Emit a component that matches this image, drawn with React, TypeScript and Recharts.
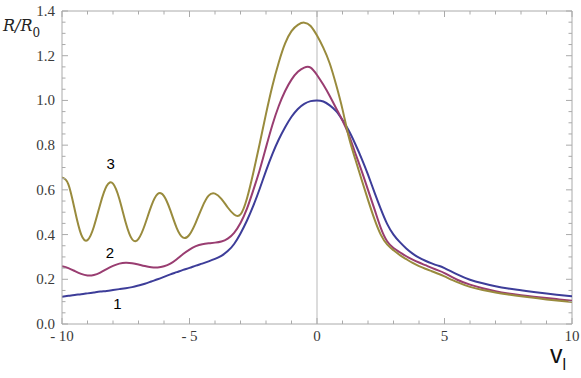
import React from 'react';
import { LineChart, Line, XAxis, YAxis, ReferenceLine, ReferenceDot } from 'recharts';

// velocity grid (x values)
const V = [
  -10, -9.75, -9.5, -9.25, -9, -8.75, -8.5, -8.25, -8, -7.75, -7.5, -7.25, -7, -6.75, -6.5, -6.25,
  -6, -5.75, -5.5, -5.25, -5, -4.75, -4.5, -4.25, -4, -3.75, -3.5, -3.25, -3, -2.75, -2.5, -2.25,
  -2, -1.75, -1.5, -1.25, -1, -0.75, -0.5, -0.25, 0, 0.25, 0.5, 0.75, 1, 1.25, 1.5, 1.75,
  2, 2.25, 2.5, 2.75, 3, 3.25, 3.5, 3.75, 4, 4.25, 4.5, 4.75, 5,
  5.5, 6, 6.5, 7, 7.5, 8, 8.5, 9, 9.5, 10,
];

// curve 1 (blue)
const R1 = [
  0.122, 0.126, 0.130, 0.133, 0.137, 0.141, 0.145, 0.148, 0.152, 0.156, 0.160, 0.165, 0.172, 0.180, 0.190, 0.200,
  0.211, 0.222, 0.232, 0.242, 0.251, 0.261, 0.270, 0.280, 0.291, 0.305, 0.326, 0.358, 0.405, 0.462, 0.528, 0.604,
  0.685, 0.760, 0.825, 0.880, 0.927, 0.962, 0.985, 0.997, 1.000, 0.995, 0.978, 0.952, 0.912, 0.864, 0.805, 0.740,
  0.668, 0.590, 0.515, 0.448, 0.400, 0.366, 0.338, 0.315, 0.297, 0.283, 0.271, 0.261, 0.250,
  0.222, 0.198, 0.182, 0.169, 0.159, 0.151, 0.143, 0.136, 0.130, 0.124,
];

// curve 2 (magenta)
const R2 = [
  0.259, 0.250, 0.237, 0.224, 0.217, 0.219, 0.230, 0.246, 0.260, 0.270, 0.274, 0.272, 0.266, 0.259, 0.254, 0.253,
  0.258, 0.270, 0.290, 0.313, 0.333, 0.348, 0.357, 0.361, 0.364, 0.369, 0.382, 0.408, 0.452, 0.515, 0.598, 0.688,
  0.790, 0.890, 0.975, 1.042, 1.093, 1.128, 1.147, 1.147, 1.114, 1.070, 1.020, 0.965, 0.910, 0.845, 0.765, 0.685,
  0.600, 0.515, 0.430, 0.370, 0.340, 0.321, 0.303, 0.288, 0.275, 0.263, 0.251, 0.240, 0.228,
  0.198, 0.176, 0.160, 0.147, 0.137, 0.129, 0.122, 0.116, 0.110, 0.104,
];

// curve 3 (olive)
const R3 = [
  0.655, 0.625, 0.511, 0.401, 0.375, 0.435, 0.536, 0.617, 0.628, 0.559, 0.453, 0.379, 0.381, 0.444, 0.527, 0.581,
  0.572, 0.508, 0.429, 0.386, 0.400, 0.455, 0.523, 0.574, 0.583, 0.560, 0.521, 0.490, 0.490, 0.560, 0.675, 0.805,
  0.940, 1.065, 1.170, 1.255, 1.310, 1.338, 1.348, 1.333, 1.290, 1.235, 1.165, 1.070, 0.960, 0.835, 0.738, 0.645,
  0.555, 0.470, 0.400, 0.356, 0.330, 0.308, 0.290, 0.273, 0.259, 0.247, 0.236, 0.225, 0.213,
  0.187, 0.166, 0.152, 0.141, 0.132, 0.124, 0.117, 0.110, 0.104, 0.098,
];

const X_TICKS = [-10, -9, -8, -7, -6, -5, -4, -3, -2, -1, 0, 1, 2, 3, 4, 5, 6, 7, 8, 9, 10];
const X_MAJOR = [-10, -5, 0, 5, 10];
const X_MAJOR_LABELS = ['- 10', '- 5', '0', '5', '10'];

const Y_TICKS = [
  0, 0.05, 0.1, 0.15, 0.2, 0.25, 0.3, 0.35, 0.4, 0.45, 0.5, 0.55, 0.6, 0.65, 0.7,
  0.75, 0.8, 0.85, 0.9, 0.95, 1.0, 1.05, 1.1, 1.15, 1.2, 1.25, 1.3, 1.35, 1.4,
];
const Y_MAJOR = [0, 0.2, 0.4, 0.6, 0.8, 1.0, 1.2, 1.4];
const Y_MAJOR_LABELS = ['0.0', '0.2', '0.4', '0.6', '0.8', '1.0', '1.2', '1.4'];

const CURVE_LABELS = ['1', '2', '3'];
const CURVE_LABEL_V = [-7.83, -8.12, -8.09];
const CURVE_LABEL_R = [0.093, 0.318, 0.719];

const COLORS = ['#3d3d99', '#993d71', '#998b3d'];
const FRAME = '#aaaaaa';
const TEXT = '#3a3a3a';
const PLOT_W = 510;
const PLOT_H = 313;
const SANS = 'Liberation Sans, Arial, sans-serif';

const data = V.map((v, i) => ({ v, r1: R1[i], r2: R2[i], r3: R3[i] }));

const near = (a: number, b: number) => Math.abs(a - b) < 1e-6;

const YTick = (props: any) => {
  const { x, y, payload } = props;
  const val = payload.value as number;
  const idx = Y_MAJOR.findIndex((m) => near(m, val));
  const major = idx >= 0;
  const ax = x + 7;
  const len = major ? 6 : 3.5;
  return (
    <g>
      <line x1={ax} x2={ax + len} y1={y} y2={y} stroke={FRAME} strokeWidth={1} />
      <line x1={ax + PLOT_W} x2={ax + PLOT_W - len} y1={y} y2={y} stroke={FRAME} strokeWidth={1} />
      {major && (
        <text x={x} y={y} dy={5} textAnchor="end" fontFamily="Times New Roman" fontSize={15} fill={TEXT}>
          {Y_MAJOR_LABELS[idx]}
        </text>
      )}
    </g>
  );
};

const XTick = (props: any) => {
  const { x, y, payload } = props;
  const val = payload.value as number;
  const idx = X_MAJOR.findIndex((m) => near(m, val));
  const major = idx >= 0;
  const len = major ? 6 : 3.5;
  return (
    <g>
      <line x1={x} x2={x} y1={y} y2={y - len} stroke={FRAME} strokeWidth={1} />
      <line x1={x} x2={x} y1={y - PLOT_H} y2={y - PLOT_H + len} stroke={FRAME} strokeWidth={1} />
      {major && (
        <text x={x} y={y + 17} textAnchor="middle" fontFamily="Liberation Serif" fontSize={15} fill={TEXT}>
          {X_MAJOR_LABELS[idx]}
        </text>
      )}
    </g>
  );
};

export default function App() {
  return (
    <div style={{ position: 'absolute', left: 0, top: 0, width: 581, height: 378, background: '#fff' }}>
      <LineChart
        width={581}
        height={378}
        data={data}
        margin={{ top: 11, right: 9, left: 22, bottom: 24 }}
      >
        <XAxis
          dataKey="v"
          type="number"
          domain={[-10, 10]}
          ticks={X_TICKS}
          interval={0}
          tickSize={0}
          tickMargin={0}
          height={30}
          tickLine={false}
          axisLine={{ stroke: FRAME, strokeWidth: 1 }}
          tick={XTick}
          allowDataOverflow
        />
        <YAxis
          type="number"
          domain={[0, 1.4]}
          ticks={Y_TICKS}
          interval={0}
          tickSize={0}
          tickMargin={7}
          width={40}
          tickLine={false}
          axisLine={{ stroke: FRAME, strokeWidth: 1 }}
          tick={YTick}
          allowDataOverflow
        />
        <ReferenceLine x={0} stroke="#dcdcdc" strokeWidth={2} />
        <ReferenceLine y={1.4} stroke={FRAME} strokeWidth={1} />
        <ReferenceLine x={10} stroke={FRAME} strokeWidth={1} />
        <Line type="natural" dataKey="r1" stroke={COLORS[0]} strokeWidth={2} dot={false} isAnimationActive={false} />
        <Line type="natural" dataKey="r2" stroke={COLORS[1]} strokeWidth={2} dot={false} isAnimationActive={false} />
        <Line type="natural" dataKey="r3" stroke={COLORS[2]} strokeWidth={2} dot={false} isAnimationActive={false} />
        {CURVE_LABELS.map((lab, i) => (
          <ReferenceDot
            key={lab}
            x={CURVE_LABEL_V[i]}
            y={CURVE_LABEL_R[i]}
            r={0.5}
            fill="none"
            stroke="none"
            label={{ value: lab, position: 'center', fontFamily: SANS, fontSize: 15, fill: '#000' }}
          />
        ))}
      </LineChart>
      <svg
        width={581}
        height={378}
        style={{ position: 'absolute', left: 0, top: 0, pointerEvents: 'none' }}
      >
        <text x={3} y={31} fontFamily="DejaVu Serif" fontStyle="italic" fontSize={16} fill="#222">
          R/R
          <tspan dy={6} fontSize={12} fontStyle="normal">0</tspan>
        </text>
        <text x={550} y={363} fontFamily={SANS} fontSize={25} fill="#111">
          v
          <tspan dy={7} fontSize={16}>l</tspan>
        </text>
      </svg>
    </div>
  );
}
